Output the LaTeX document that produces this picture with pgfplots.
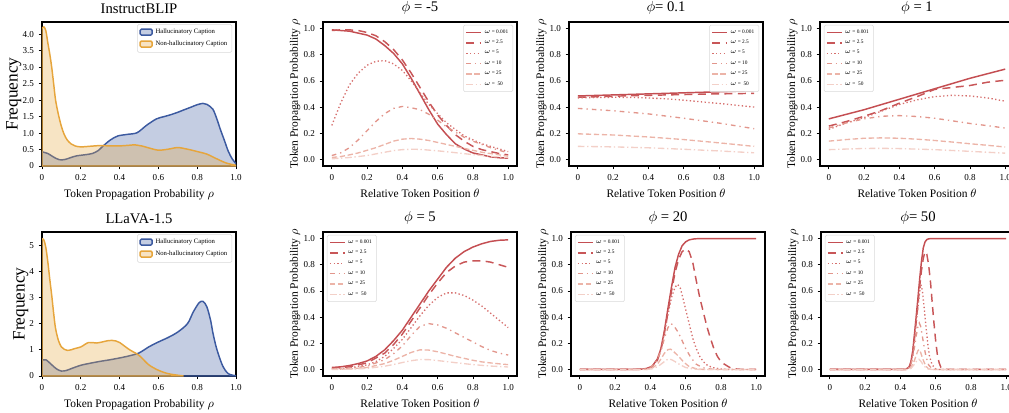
\documentclass[border=0pt]{standalone}
\usepackage{fontspec}
\setmainfont{Liberation Serif}
\usepackage{pgfplots}
\pgfplotsset{compat=1.18}

\definecolor{c1}{RGB}{196,78,82}
\definecolor{c2}{RGB}{200,86,88}
\definecolor{c3}{RGB}{214,112,110}
\definecolor{c4}{RGB}{226,150,140}
\definecolor{c5}{RGB}{236,180,168}
\definecolor{c6}{RGB}{243,208,200}
\definecolor{kblue}{RGB}{60,90,160}
\definecolor{korange}{RGB}{230,165,60}

\pgfplotsset{
  base/.style={scale only axis, width=145.5pt, height=108pt, anchor=south west,
    tick align=outside, tick pos=left, major tick length=2.5pt,
    every tick/.style={black, line width=0.6pt}, axis line style={line width=0.8pt},
    tick label style={font=\fontsize{6.8}{8}\selectfont},
    label style={font=\fontsize{8.6}{10}\selectfont},
    title style={font=\fontsize{11}{13}\selectfont, yshift=-3.5pt},
    xtick={0,0.2,0.4,0.6,0.8,1}, xticklabels={0,0.2,0.4,0.6,0.8,1.0}},
  rho/.style={base, xmin=-0.05, xmax=1.05, ymin=-0.05, ymax=1.05,
    ytick={0,0.2,0.4,0.6,0.8,1}, yticklabels={0.0,0.2,0.4,0.6,0.8,1.0},
    xlabel={Relative Token Position $\theta$},
    ylabel={Token Propagation Probability $\rho$}, ylabel shift=-4.5pt,
    legend cell align=left,
    legend image code/.code={\draw[##1] (0pt,0pt) -- (11pt,0pt);},
    legend style={font=\fontsize{4}{5}\selectfont, draw=black!15, rounded corners=1pt,
      row sep=-0.4pt, inner sep=1.5pt}},
  kde/.style={base, xmin=0, xmax=1, ymin=0,
    xlabel={Token Propagation Probability $\rho$}, ylabel={Frequency},
    ylabel style={font=\fontsize{13}{15}\selectfont}, ylabel shift=-6pt,
    legend cell align=left,
    legend style={at={(0.98,0.985)}, anchor=north east, font=\fontsize{5}{6}\selectfont,
      draw=black!15, rounded corners=1pt, row sep=0pt, inner sep=1.5pt},
    legend image code/.code={\draw[##1] (0pt,-2pt) rectangle (9pt,2.5pt);}},
  ne/.style={legend style={at={(0.98,0.98)}, anchor=north east}},
  nw/.style={legend style={at={(0.02,0.98)}, anchor=north west}},
  w1/.style={color=c1, line width=1.1pt, solid},
  w2/.style={color=c2, line width=1.1pt, dash pattern=on 6pt off 4pt},
  w3/.style={color=c3, line width=1pt, dash pattern=on 1pt off 1.8pt},
  w4/.style={color=c4, line width=1pt, dash pattern=on 3.5pt off 3pt on 1pt off 3pt},
  w5/.style={color=c5, line width=1pt, dash pattern=on 4pt off 2pt},
  w6/.style={color=c6, line width=1pt, dash pattern=on 5pt off 2pt on 1pt off 2pt},
  hal/.style={color=kblue, fill=kblue, fill opacity=0.3, line width=1.1pt, smooth},
  non/.style={color=korange, fill=korange, fill opacity=0.3, line width=1.1pt, smooth},
}
\newcommand{\omegalegend}{\legend{$\omega$ = 0.001, $\omega$ = 2.5, $\omega$ = 5, $\omega$ = 10, $\omega$ = 25, $\omega$ =\ \ 50}}

\begin{document}
\begin{tikzpicture}
% ---------- row 1 ----------
\begin{axis}[kde, at={(31.5pt,184.5pt)}, ymax=4.37, title={InstructBLIP},
  ytick={0,0.5,1,1.5,2,2.5,3,3.5,4}, yticklabels={0,0.5,1.0,1.5,2.0,2.5,3.0,3.5,4.0}]
\addplot[hal] coordinates {(0,0.43)(0.03,0.38)(0.06,0.27)(0.09,0.19)(0.12,0.2)(0.15,0.26)(0.18,0.31)(0.22,0.34)(0.26,0.38)(0.29,0.47)(0.31,0.58)(0.35,0.78)(0.39,0.91)(0.44,0.96)(0.49,1.01)(0.54,1.24)(0.59,1.43)(0.63,1.5)(0.66,1.55)(0.7,1.63)(0.73,1.7)(0.77,1.79)(0.8,1.86)(0.83,1.9)(0.85,1.87)(0.88,1.73)(0.9,1.45)(0.92,1.1)(0.94,0.78)(0.96,0.45)(0.98,0.22)(1,0.07)} \closedcycle;
\addplot[non] coordinates {(0,4.18)(0.01,4.22)(0.02,4.1)(0.03,3.74)(0.04,3.4)(0.05,3.0)(0.06,2.5)(0.07,2.0)(0.085,1.55)(0.1,1.2)(0.115,0.95)(0.13,0.79)(0.15,0.67)(0.17,0.61)(0.2,0.58)(0.25,0.6)(0.3,0.62)(0.35,0.61)(0.4,0.61)(0.45,0.63)(0.48,0.64)(0.52,0.6)(0.55,0.55)(0.6,0.48)(0.65,0.51)(0.7,0.56)(0.75,0.51)(0.8,0.44)(0.85,0.36)(0.9,0.22)(0.95,0.09)(1,0.02)} \closedcycle;
\legend{Hallucinatory Caption, Non-hallucinatory Caption}
\end{axis}

\begin{axis}[rho, ne, at={(242.25pt,184.5pt)}, title={$\phi$ = -5}]
\addplot[w1] coordinates {(0,0.99)(0.05,0.985)(0.1,0.98)(0.15,0.965)(0.2,0.95)(0.25,0.92)(0.3,0.87)(0.35,0.81)(0.4,0.73)(0.45,0.62)(0.5,0.5)(0.55,0.38)(0.6,0.27)(0.65,0.19)(0.7,0.12)(0.75,0.08)(0.8,0.05)(0.85,0.035)(0.9,0.02)(0.95,0.013)(1,0.01)};
\addplot[w2] coordinates {(0,0.985)(0.05,0.99)(0.1,0.99)(0.15,0.985)(0.2,0.97)(0.25,0.945)(0.3,0.9)(0.35,0.84)(0.4,0.76)(0.45,0.66)(0.5,0.55)(0.55,0.44)(0.6,0.34)(0.65,0.26)(0.7,0.19)(0.75,0.14)(0.8,0.1)(0.85,0.075)(0.9,0.06)(0.95,0.045)(1,0.035)};
\addplot[w3] coordinates {(0,0.26)(0.05,0.43)(0.1,0.57)(0.15,0.66)(0.2,0.72)(0.25,0.75)(0.3,0.755)(0.35,0.73)(0.4,0.68)(0.45,0.6)(0.5,0.51)(0.55,0.42)(0.6,0.35)(0.65,0.28)(0.7,0.23)(0.75,0.18)(0.8,0.15)(0.85,0.12)(0.9,0.1)(0.95,0.08)(1,0.06)};
\addplot[w4] coordinates {(0,0.03)(0.05,0.05)(0.1,0.09)(0.15,0.15)(0.2,0.22)(0.25,0.29)(0.3,0.35)(0.35,0.39)(0.4,0.405)(0.45,0.395)(0.5,0.38)(0.55,0.345)(0.6,0.3)(0.65,0.25)(0.7,0.21)(0.75,0.17)(0.8,0.14)(0.85,0.115)(0.9,0.09)(0.95,0.07)(1,0.05)};
\addplot[w5] coordinates {(0,0.015)(0.05,0.022)(0.1,0.035)(0.15,0.05)(0.2,0.07)(0.25,0.09)(0.3,0.115)(0.35,0.14)(0.4,0.155)(0.45,0.16)(0.5,0.155)(0.55,0.145)(0.6,0.13)(0.65,0.115)(0.7,0.1)(0.75,0.085)(0.8,0.07)(0.85,0.055)(0.9,0.045)(0.95,0.035)(1,0.025)};
\addplot[w6] coordinates {(0,0.005)(0.1,0.015)(0.2,0.03)(0.3,0.055)(0.35,0.068)(0.4,0.075)(0.45,0.078)(0.5,0.077)(0.6,0.066)(0.7,0.052)(0.8,0.037)(0.9,0.024)(1,0.014)};
\omegalegend
\end{axis}

\begin{axis}[rho, ne, at={(426.75pt,184.5pt)}, title={$\phi$= 0.1}]
\addplot[w1] coordinates {(0,0.485)(0.5,0.505)(1,0.525)};
\addplot[w2] coordinates {(0,0.475)(0.25,0.485)(0.5,0.493)(0.75,0.5)(1,0.505)};
\addplot[w3] coordinates {(0,0.47)(0.1,0.473)(0.2,0.475)(0.3,0.474)(0.4,0.47)(0.5,0.463)(0.6,0.453)(0.7,0.44)(0.8,0.428)(0.9,0.414)(1,0.4)};
\addplot[w4] coordinates {(0,0.39)(0.2,0.372)(0.4,0.348)(0.6,0.315)(0.8,0.278)(1,0.235)};
\addplot[w5] coordinates {(0,0.196)(0.2,0.187)(0.4,0.172)(0.6,0.152)(0.8,0.127)(1,0.1)};
\addplot[w6] coordinates {(0,0.1)(0.2,0.096)(0.4,0.089)(0.6,0.078)(0.8,0.065)(1,0.051)};
\omegalegend
\end{axis}

\begin{axis}[rho, nw, at={(615pt,184.5pt)}, title={$\phi$ = 1}]
\addplot[w1] coordinates {(0,0.31)(0.1,0.345)(0.2,0.38)(0.3,0.42)(0.4,0.46)(0.5,0.5)(0.6,0.54)(0.7,0.58)(0.8,0.62)(0.9,0.655)(1,0.69)};
\addplot[w2] coordinates {(0,0.255)(0.1,0.29)(0.2,0.33)(0.3,0.375)(0.4,0.43)(0.5,0.48)(0.6,0.535)(0.7,0.55)(0.8,0.565)(0.9,0.59)(1,0.605)};
\addplot[w3] coordinates {(0,0.23)(0.1,0.28)(0.2,0.32)(0.3,0.37)(0.4,0.42)(0.5,0.455)(0.6,0.48)(0.7,0.49)(0.8,0.485)(0.9,0.47)(1,0.445)};
\addplot[w4] coordinates {(0,0.24)(0.1,0.28)(0.2,0.31)(0.3,0.33)(0.4,0.335)(0.5,0.328)(0.6,0.315)(0.7,0.295)(0.8,0.275)(0.9,0.258)(1,0.24)};
\addplot[w5] coordinates {(0,0.14)(0.1,0.152)(0.2,0.162)(0.3,0.165)(0.4,0.162)(0.5,0.155)(0.6,0.145)(0.7,0.133)(0.8,0.12)(0.9,0.108)(1,0.095)};
\addplot[w6] coordinates {(0,0.075)(0.2,0.084)(0.3,0.085)(0.4,0.083)(0.6,0.075)(0.8,0.062)(1,0.048)};
\omegalegend
\end{axis}

% ---------- row 2 ----------
\begin{axis}[kde, at={(31.5pt,27pt)}, ymax=5.5, title={LLaVA-1.5},
  ytick={0,1,2,3,4,5}, yticklabels={0,1,2,3,4,5}]
\addplot[hal] coordinates {(0,0.6)(0.02,0.62)(0.05,0.43)(0.075,0.27)(0.1,0.19)(0.125,0.21)(0.15,0.28)(0.2,0.41)(0.25,0.49)(0.3,0.56)(0.35,0.62)(0.4,0.69)(0.45,0.77)(0.5,0.88)(0.55,1.11)(0.6,1.3)(0.65,1.47)(0.7,1.68)(0.75,2.0)(0.78,2.45)(0.81,2.8)(0.83,2.85)(0.85,2.64)(0.87,2.1)(0.88,1.68)(0.9,1.05)(0.93,0.41)(0.96,0.09)(1,0.01)} \closedcycle;
\addplot[non] coordinates {(0,5.25)(0.01,5.19)(0.02,4.9)(0.03,4.36)(0.04,3.7)(0.05,3.09)(0.06,2.4)(0.07,1.81)(0.085,1.35)(0.1,1.11)(0.115,1.02)(0.13,0.98)(0.15,1.0)(0.17,1.05)(0.2,1.11)(0.24,1.28)(0.28,1.26)(0.31,1.3)(0.34,1.35)(0.36,1.36)(0.38,1.34)(0.4,1.28)(0.45,1.01)(0.5,0.79)(0.55,0.43)(0.6,0.22)(0.65,0.09)(0.7,0.03)(0.73,0.0)} \closedcycle;
\legend{Hallucinatory Caption, Non-hallucinatory Caption}
\end{axis}

\begin{axis}[rho, nw, at={(242.25pt,27pt)}, title={$\phi$ = 5}]
\addplot[w1] coordinates {(0,0.015)(0.05,0.02)(0.1,0.03)(0.15,0.045)(0.2,0.065)(0.25,0.1)(0.3,0.15)(0.35,0.22)(0.4,0.3)(0.45,0.4)(0.5,0.5)(0.55,0.6)(0.6,0.69)(0.65,0.78)(0.7,0.85)(0.75,0.9)(0.8,0.935)(0.85,0.96)(0.9,0.978)(0.95,0.987)(1,0.99)};
\addplot[w2] coordinates {(0,0.01)(0.1,0.02)(0.2,0.05)(0.3,0.125)(0.35,0.19)(0.4,0.27)(0.45,0.37)(0.5,0.47)(0.55,0.57)(0.6,0.66)(0.65,0.74)(0.7,0.79)(0.75,0.82)(0.8,0.83)(0.85,0.83)(0.9,0.82)(0.95,0.8)(1,0.78)};
\addplot[w3] coordinates {(0,0.005)(0.1,0.012)(0.2,0.035)(0.25,0.06)(0.3,0.1)(0.35,0.16)(0.4,0.23)(0.45,0.32)(0.5,0.41)(0.55,0.49)(0.6,0.55)(0.65,0.585)(0.7,0.585)(0.75,0.565)(0.8,0.53)(0.85,0.485)(0.9,0.43)(0.95,0.375)(1,0.32)};
\addplot[w4] coordinates {(0,0.003)(0.1,0.008)(0.2,0.025)(0.3,0.075)(0.35,0.12)(0.4,0.18)(0.45,0.26)(0.5,0.33)(0.55,0.35)(0.6,0.34)(0.65,0.315)(0.7,0.28)(0.75,0.245)(0.8,0.21)(0.85,0.175)(0.9,0.145)(0.95,0.125)(1,0.11)};
\addplot[w5] coordinates {(0,0.001)(0.1,0.004)(0.2,0.015)(0.3,0.045)(0.35,0.07)(0.4,0.1)(0.45,0.13)(0.5,0.15)(0.55,0.148)(0.6,0.135)(0.65,0.118)(0.7,0.1)(0.75,0.085)(0.8,0.07)(0.85,0.058)(0.9,0.05)(0.95,0.043)(1,0.037)};
\addplot[w6] coordinates {(0,0)(0.1,0.002)(0.2,0.008)(0.3,0.025)(0.35,0.038)(0.4,0.053)(0.45,0.067)(0.5,0.076)(0.55,0.075)(0.6,0.068)(0.7,0.052)(0.8,0.037)(0.9,0.026)(1,0.019)};
\omegalegend
\end{axis}

\begin{axis}[rho, nw, at={(428.25pt,27pt)}, title={$\phi$ = 20}]
\addplot[w1] coordinates {(0,0)(0.3,0)(0.35,0.002)(0.38,0.008)(0.41,0.025)(0.44,0.08)(0.46,0.16)(0.48,0.3)(0.5,0.47)(0.52,0.63)(0.54,0.78)(0.56,0.88)(0.58,0.945)(0.6,0.975)(0.62,0.99)(0.65,0.998)(0.7,1)(1,1)};
\addplot[w2] coordinates {(0,0)(0.3,0)(0.38,0.006)(0.41,0.02)(0.44,0.07)(0.46,0.15)(0.48,0.28)(0.5,0.44)(0.52,0.6)(0.54,0.74)(0.56,0.84)(0.58,0.9)(0.6,0.92)(0.62,0.9)(0.64,0.82)(0.66,0.68)(0.68,0.55)(0.7,0.44)(0.72,0.33)(0.74,0.24)(0.76,0.16)(0.78,0.1)(0.8,0.06)(0.82,0.04)(0.85,0.015)(0.88,0.005)(0.92,0)(1,0)};
\addplot[w3] coordinates {(0,0)(0.3,0)(0.38,0.006)(0.41,0.02)(0.44,0.08)(0.46,0.15)(0.48,0.28)(0.5,0.42)(0.52,0.55)(0.54,0.63)(0.555,0.65)(0.57,0.62)(0.58,0.57)(0.6,0.46)(0.62,0.35)(0.64,0.24)(0.66,0.16)(0.68,0.1)(0.7,0.06)(0.72,0.035)(0.75,0.015)(0.8,0.003)(0.85,0)(1,0)};
\addplot[w4] coordinates {(0,0)(0.35,0)(0.4,0.015)(0.43,0.05)(0.46,0.14)(0.48,0.24)(0.5,0.32)(0.515,0.35)(0.53,0.34)(0.55,0.3)(0.57,0.25)(0.6,0.16)(0.63,0.09)(0.66,0.04)(0.7,0.012)(0.75,0.002)(0.8,0)(1,0)};
\addplot[w5] coordinates {(0,0)(0.38,0)(0.41,0.01)(0.44,0.04)(0.46,0.08)(0.48,0.125)(0.5,0.152)(0.515,0.155)(0.53,0.14)(0.56,0.1)(0.59,0.055)(0.62,0.022)(0.66,0.005)(0.7,0)(1,0)};
\addplot[w6] coordinates {(0,0)(0.38,0)(0.41,0.005)(0.44,0.02)(0.47,0.05)(0.49,0.072)(0.505,0.08)(0.52,0.075)(0.54,0.06)(0.57,0.035)(0.6,0.015)(0.64,0.004)(0.68,0)(1,0)};
\omegalegend
\end{axis}

\begin{axis}[rho, nw, at={(615.75pt,27pt)}, title={$\phi$= 50}]
\addplot[w1] coordinates {(0,0)(0.43,0)(0.45,0.02)(0.46,0.06)(0.47,0.14)(0.48,0.27)(0.49,0.41)(0.5,0.55)(0.51,0.7)(0.52,0.83)(0.53,0.93)(0.54,0.975)(0.55,0.992)(0.56,0.998)(0.58,1)(1,1)};
\addplot[w2] coordinates {(0,0)(0.43,0)(0.45,0.015)(0.46,0.05)(0.47,0.12)(0.48,0.24)(0.49,0.37)(0.5,0.5)(0.51,0.64)(0.52,0.76)(0.53,0.85)(0.54,0.9)(0.55,0.88)(0.56,0.8)(0.57,0.68)(0.58,0.52)(0.59,0.36)(0.6,0.22)(0.61,0.11)(0.62,0.05)(0.63,0.015)(0.65,0)(1,0)};
\addplot[w3] coordinates {(0,0)(0.43,0)(0.45,0.015)(0.46,0.05)(0.47,0.12)(0.48,0.23)(0.49,0.36)(0.5,0.48)(0.51,0.6)(0.516,0.65)(0.525,0.6)(0.535,0.47)(0.545,0.33)(0.555,0.2)(0.565,0.1)(0.58,0.035)(0.6,0.005)(0.62,0)(1,0)};
\addplot[w4] coordinates {(0,0)(0.44,0)(0.46,0.04)(0.47,0.09)(0.48,0.17)(0.49,0.26)(0.5,0.33)(0.507,0.355)(0.515,0.33)(0.525,0.25)(0.535,0.17)(0.545,0.1)(0.56,0.035)(0.58,0.005)(0.6,0)(1,0)};
\addplot[w5] coordinates {(0,0)(0.44,0)(0.46,0.015)(0.48,0.07)(0.49,0.11)(0.5,0.145)(0.507,0.152)(0.515,0.13)(0.53,0.07)(0.545,0.025)(0.56,0.005)(0.58,0)(1,0)};
\addplot[w6] coordinates {(0,0)(0.44,0)(0.46,0.008)(0.48,0.04)(0.495,0.07)(0.505,0.078)(0.515,0.065)(0.53,0.035)(0.545,0.012)(0.56,0.002)(0.58,0)(1,0)};
\omegalegend
\end{axis}

\pgfresetboundingbox
\useasboundingbox (0pt,0pt) rectangle (756.75pt,309pt);
\end{tikzpicture}
\end{document}
